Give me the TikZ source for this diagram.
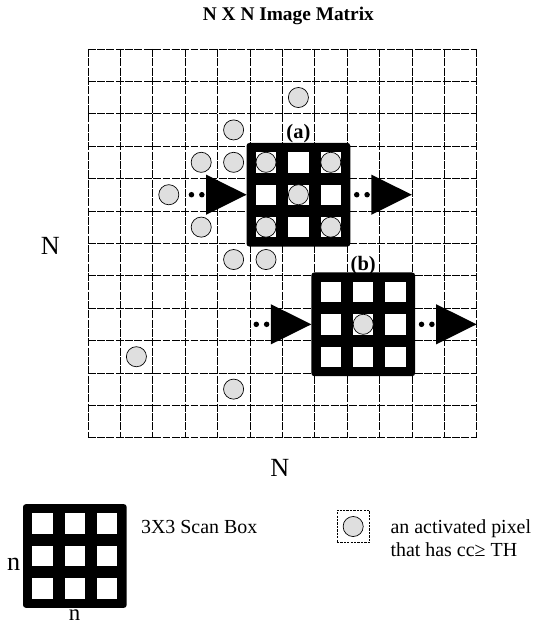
\documentclass[tikz,border=0pt]{standalone}
\usepackage{fontspec}
\setmainfont{Liberation Serif}

\begin{document}
\begin{tikzpicture}[
    gridline/.style={line width=0.5pt, dash pattern=on 7pt off 1.2pt},
    scanbox/.style={rectangle, fill=black, rounded corners=2.5pt, minimum size=3.2cm, inner sep=0pt},
    hole/.style={rectangle, fill=white, minimum size=0.63cm, inner sep=0pt},
    pixel/.style={circle, draw, line width=0.6pt, fill=gray!25, minimum size=0.62cm, inner sep=0pt},
    legcell/.style={rectangle, draw, line width=0.5pt, dash pattern=on 2pt off 1pt, minimum size=1cm, inner sep=0pt},
    dot/.style={circle, fill=black, minimum size=0.17cm, inner sep=0pt},
    boxlabel/.style={font=\fontsize{18}{21}\selectfont\bfseries},
    axis/.style={font=\fontsize{23}{26}\selectfont},
    legend/.style={font=\fontsize{17.5}{20}\selectfont, align=left}
]

% Canvas
\useasboundingbox (-2.71,-17.78) rectangle (13.71,1.51);

% N x N image grid
\foreach \k in {0,...,12} {
    \draw[gridline] (\k,0) -- (\k,-12);
    \draw[gridline] (0,-\k) -- (12,-\k);
}

% Scan boxes (a), (b) and the legend box
\node[scanbox] (boxa) at (6.5,-4.5) {};
\node[scanbox] (boxb) at (8.5,-8.5) {};
\node[scanbox] (boxn) at (-0.4,-15.65) {};
\foreach \b in {boxa,boxb,boxn} {
    \foreach \i in {1,2,3} {
        \foreach \j in {1,2,3} {
            \node[hole] (\b\i\j) at ([shift={(\i-2,2-\j)}]\b) {};
        }
    }
}

% Activated pixels
\foreach \c/\r in {6/1,4/2,3/3,4/3,5/3,7/3,2/4,6/4,3/5,5/5,7/5,4/6,5/6,8/8,1/9,4/10} {
    \node[pixel] (px\c\r) at (\c+0.5,-\r-0.5) {};
}

% Scan direction arrows
\foreach \n/\x/\y in {la/4.9/-4.5, ra/10/-4.5, lb/6.9/-8.5, rb/12/-8.5} {
    \coordinate (tip\n) at (\x,\y);
    \fill (tip\n) -- ++(-1.25,0.62) -- ++(0,-1.24) -- cycle;
    \node[dot] (dl\n) at ([xshift=-1.7cm]tip\n) {};
    \node[dot] (dr\n) at ([xshift=-1.38cm]tip\n) {};
}

% Labels
\node[font=\fontsize{17}{20}\selectfont\bfseries] (title) at (6.19,1.02) {N X N Image Matrix};
\node[boxlabel] (laba) at (6.5,-2.6) {(a)};
\node[boxlabel] (labb) at (8.5,-6.68) {(b)};
\node[axis] (nleft) at (-1.16,-6.08) {N};
\node[axis] (nbot) at (5.93,-12.93) {N};

% Legend
\node[axis] (nside) at (-2.29,-15.9) {n};
\node[font=\fontsize{20}{24}\selectfont, inner sep=0pt] (nunder) at (-0.41,-17.48) {n};
\node[legend, anchor=west] (scantxt) at (1.52,-14.75) {3X3 Scan Box};
\node[legcell] (cell) at (8.19,-14.74) {};
\node[pixel] (cellpx) at (cell) {};
\node[legend, anchor=west] (pxtxt) at (9.22,-15.09) {an activated pixel\\that has cc≥ TH};

\end{tikzpicture}
\end{document}
